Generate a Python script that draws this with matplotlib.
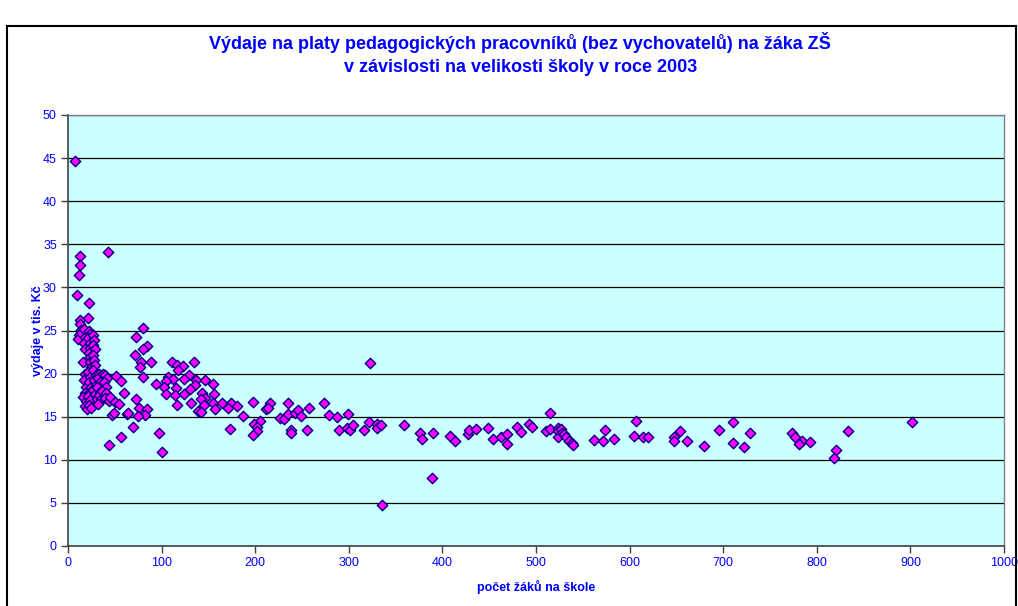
import matplotlib
matplotlib.use("Agg")
import matplotlib.pyplot as plt
from matplotlib.patches import Rectangle

plt.rcParams['font.family'] = ['Liberation Sans', 'DejaVu Sans']

title = "Výdaje na platy pedagogických pracovníků (bez vychovatelů) na žáka ZŠ\nv závislosti na velikosti školy v roce 2003"
x_label = "počet žáků na škole"
y_label = "výdaje v tis. Kč"
x_ticks = [0, 100, 200, 300, 400, 500, 600, 700, 800, 900, 1000]
y_ticks = [0, 5, 10, 15, 20, 25, 30, 35, 40, 45, 50]

# small schools (outliers at the top)
small_x = [8, 13, 13, 12, 43, 10, 22, 13, 21, 13, 14, 12, 11, 14]
small_y = [44.7, 33.6, 32.6, 31.4, 34.1, 29.1, 28.2, 26.2, 26.4, 25.7, 25.1, 24.5, 24.0, 24.7]

# dense cluster of very small schools
cluster_x = [17, 18, 17, 18, 16, 18, 17, 19, 18, 16, 19, 18, 20,
             22, 23, 21, 24, 23, 22, 24, 23, 25, 21, 24, 22, 25, 23, 21, 24, 22, 25,
             27, 28, 27, 29, 27, 28, 29, 27, 30, 28, 30, 27, 29, 31,
             33, 32, 34, 31, 34, 33, 35, 32,
             37, 40, 42, 38, 41, 36, 41, 39, 44]
cluster_y = [25.2, 24.3, 23.6, 22.8, 21.4, 20.0, 19.2, 18.5, 17.8, 17.3, 16.8, 16.2, 15.9,
             25.0, 24.6, 24.1, 23.5, 23.0, 22.4, 21.9, 21.3, 20.8, 20.2, 19.6, 19.0, 18.4, 17.9, 17.4, 16.9, 16.4, 16.0,
             24.5, 23.9, 23.3, 22.8, 22.2, 21.6, 21.0, 20.4, 19.8, 19.3, 18.7, 18.1, 17.6, 17.1,
             20.0, 19.5, 19.0, 18.4, 17.9, 17.5, 17.0, 16.5,
             20.0, 19.8, 19.5, 19.0, 18.5, 18.0, 17.7, 17.2, 16.8]

# medium schools (45 - 360 pupils)
medium_x = [45, 50, 54, 51, 57, 60, 47, 49, 63, 64, 69, 57, 44, 76, 84, 82, 75, 73,
            80, 73, 84, 80, 72, 78, 89, 77, 80, 94, 97, 100,
            107, 112, 105, 103, 115, 111, 116, 123, 118, 135, 129, 124, 137, 136, 146, 155,
            130, 105, 114, 124, 143, 156, 146, 142, 116, 131, 145, 155, 164, 174, 157, 171,
            139, 142, 173, 187, 181, 198, 205, 199, 202, 202, 198, 216, 212, 214, 235, 227,
            231, 235, 242, 246, 249, 257, 238, 238, 255, 274, 279, 287, 299, 290, 298, 301,
            304, 316, 322, 330, 330, 334, 336, 323, 359]
medium_y = [17.3, 16.7, 16.5, 19.7, 19.1, 17.7, 15.2, 15.4, 15.3, 15.4, 13.8, 12.6, 11.7, 16.0, 15.9, 15.2, 15.1, 17.1,
            25.3, 24.2, 23.2, 22.9, 22.2, 21.3, 21.3, 20.8, 19.6, 18.8, 13.1, 10.9,
            19.6, 19.4, 19.1, 18.5, 18.3, 21.3, 21.0, 20.9, 20.4, 21.4, 19.8, 19.4, 19.2, 18.7, 19.2, 18.8,
            18.2, 17.6, 17.5, 17.6, 17.7, 17.6, 17.2, 17.0, 16.3, 16.6, 16.4, 16.6, 16.6, 16.6, 15.9, 16.0,
            15.7, 15.5, 13.6, 15.1, 16.2, 16.7, 14.5, 14.2, 13.8, 13.3, 12.9, 16.6, 15.9, 16.0, 16.6, 14.9,
            14.7, 15.3, 15.4, 15.8, 15.1, 16.0, 13.4, 13.1, 13.5, 16.6, 15.2, 15.0, 15.3, 13.5, 13.7, 13.5,
            14.0, 13.5, 14.4, 14.2, 13.7, 14.0, 4.8, 21.2, 14.0]

# large schools (> 360 pupils)
large_x = [376, 378, 390, 389, 408, 413, 427, 428, 436, 449, 454, 463, 469, 469, 480, 484,
           492, 496, 515, 511, 515, 523, 524, 527, 523, 528, 530, 532, 535, 538, 540,
           562, 572, 574, 583, 605, 607, 614, 620, 647, 647, 654, 661, 679, 695, 711, 710,
           729, 722, 774, 777, 784, 781, 793, 820, 818, 833, 902]
large_y = [13.1, 12.4, 13.1, 7.9, 12.8, 12.2, 13.0, 13.5, 13.6, 13.7, 12.4, 12.7, 13.0, 11.8, 13.8, 13.2,
           14.2, 13.8, 15.4, 13.3, 13.6, 13.7, 13.3, 13.6, 12.6, 13.1, 13.0, 12.6, 12.2, 11.9, 11.7,
           12.3, 12.2, 13.4, 12.4, 12.8, 14.5, 12.7, 12.6, 12.7, 12.2, 13.3, 12.2, 11.6, 13.4, 14.4, 11.9,
           13.1, 11.5, 13.1, 12.7, 12.2, 11.8, 12.1, 11.1, 10.2, 13.3, 14.4]

x_vals = small_x + cluster_x + medium_x + large_x
y_vals = small_y + cluster_y + medium_y + large_y

blue = '#0000FF'
fig = plt.figure(figsize=(10.18, 6.06), dpi=100)
fig.patch.set_facecolor('white')

# outer chart border
fig.patches.append(Rectangle((7 / 1018, -0.05), 1009 / 1018, 1.05 - 26 / 606,
                             transform=fig.transFigure, fill=False,
                             edgecolor='black', linewidth=1.5))

ax = fig.add_axes([68 / 1018, 1 - 546 / 606, 936 / 1018, 431 / 606])
ax.set_facecolor('#CCFFFF')
ax.set_xlim(0, 1000)
ax.set_ylim(0, 50)
ax.set_xticks(x_ticks)
ax.set_yticks(y_ticks)
ax.yaxis.grid(True, color='black', linewidth=0.9)
ax.set_axisbelow(True)

ax.scatter(x_vals, y_vals, marker='D', s=28, facecolor='#FF00FF',
           edgecolor='#000080', linewidth=1.0, zorder=3, clip_on=False)

for side in ['top', 'right']:
    ax.spines[side].set_color('#808080')
    ax.spines[side].set_linewidth(1.0)
for side in ['left', 'bottom']:
    ax.spines[side].set_color('#404040')
    ax.spines[side].set_linewidth(1.2)

ax.tick_params(axis='both', direction='out', length=5, width=1, color='#404040',
               labelcolor=blue, labelsize=9)
ax.tick_params(axis='x', pad=3)
ax.tick_params(axis='y', pad=3)

ax.set_xlabel(x_label, color=blue, fontsize=9, fontweight='bold', labelpad=8)
ax.set_ylabel(y_label, color=blue, fontsize=9, fontweight='bold', labelpad=-1)

fig.text(0.511, 1 - 54 / 606, title, ha='center', va='center', color=blue,
         fontsize=13, fontweight='bold', linespacing=1.45)

fig.savefig('out.png', dpi=100)
